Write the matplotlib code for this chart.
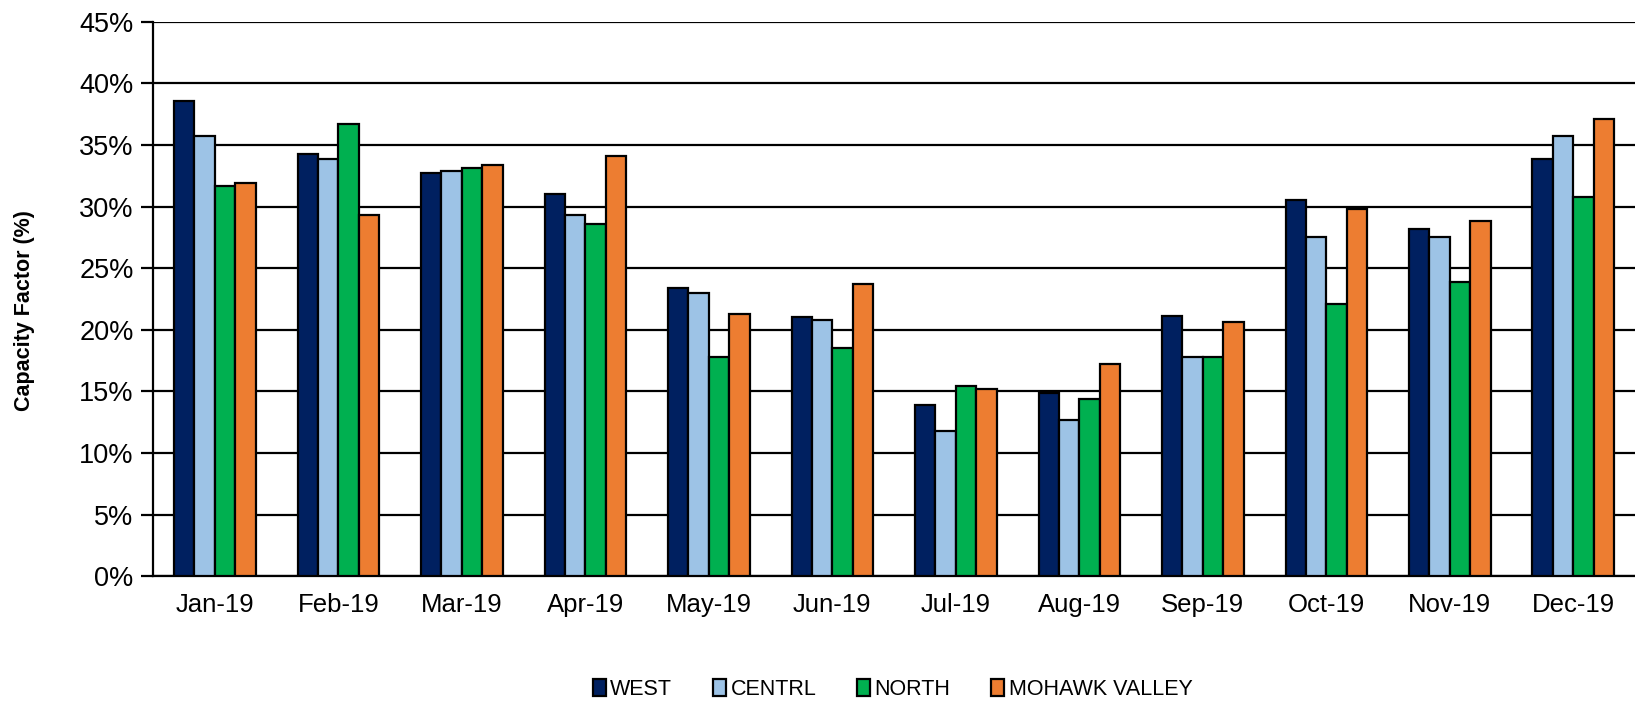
import matplotlib.pyplot as plt
import numpy as np
from matplotlib.ticker import PercentFormatter

months = ['Jan-19', 'Feb-19', 'Mar-19', 'Apr-19', 'May-19', 'Jun-19',
          'Jul-19', 'Aug-19', 'Sep-19', 'Oct-19', 'Nov-19', 'Dec-19']
regions = ['WEST', 'CENTRL', 'NORTH', 'MOHAWK VALLEY']

west = [38.6, 34.3, 32.7, 31.0, 23.4, 21.0, 13.9, 14.9, 21.1, 30.5, 28.2, 33.9]
centrl = [35.7, 33.9, 32.9, 29.3, 23.0, 20.8, 11.8, 12.7, 17.8, 27.5, 27.5, 35.7]
north = [31.7, 36.7, 33.1, 28.6, 17.8, 18.5, 15.4, 14.4, 17.8, 22.1, 23.9, 30.8]
mohawk = [31.9, 29.3, 33.4, 34.1, 21.3, 23.7, 15.2, 17.2, 20.6, 29.8, 28.8, 37.1]

colors = ['#002060', '#9dc3e6', '#00b050', '#ed7d31']

fig = plt.figure(figsize=(16.35, 7.01), dpi=100)
ax = fig.add_axes([0.0936, 0.178, 0.9064, 0.791])

x = np.arange(len(months))
w = 0.165
for i, (vals, name) in enumerate(zip([west, centrl, north, mohawk], regions)):
    ax.bar(x + (i - 1.5) * w, vals, width=w, color=colors[i], edgecolor='black',
           linewidth=1.6, label=name, zorder=3)

ax.set_xlim(-0.5, 11.5)
ax.set_ylim(0, 45)
ax.set_yticks(np.arange(0, 46, 5))
ax.yaxis.set_major_formatter(PercentFormatter(decimals=0))
ax.yaxis.grid(True, color='black', linewidth=1.6, zorder=0)
ax.set_xticks(x)
ax.set_xticklabels(months, fontsize=18.5, family='Liberation Sans')
ax.tick_params(axis='x', length=0, pad=12)
ax.tick_params(axis='y', length=9, width=1.6, labelsize=19.5, pad=5)
for lab in ax.get_yticklabels():
    lab.set_family('Liberation Sans')

for s in ['top', 'right']:
    ax.spines[s].set_visible(False)
ax.spines['left'].set_linewidth(1.6)
ax.spines['bottom'].set_linewidth(1.6)

ax.set_ylabel('Capacity Factor (%)', fontsize=15.5, family='Liberation Sans',
              fontweight='bold')
ax.yaxis.set_label_coords(-0.0795, 0.48)

leg = fig.legend(loc='center', bbox_to_anchor=(0.546, 0.016), ncol=4, frameon=False,
                 prop={'family': 'Liberation Sans', 'size': 15.5},
                 handlelength=0.6, handleheight=0.85, handletextpad=0.2, columnspacing=1.9)

fig.savefig('out.png', dpi=100)
